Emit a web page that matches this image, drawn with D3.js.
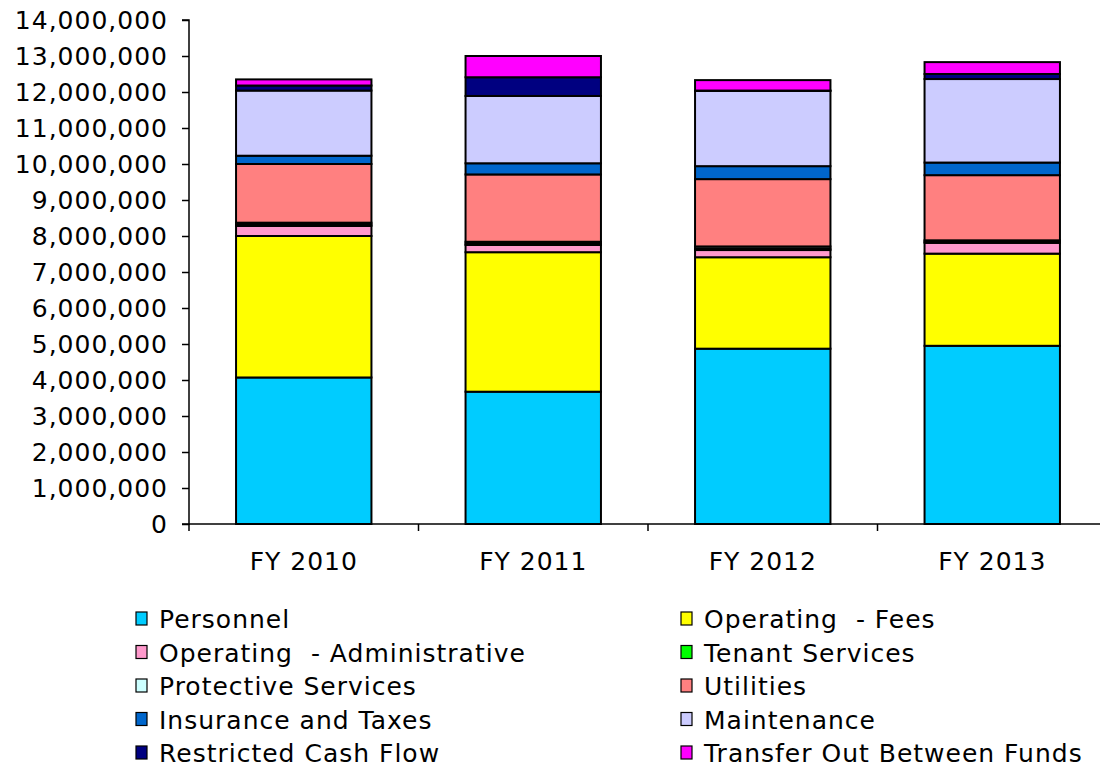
<!DOCTYPE html>
<html>
<head>
<meta charset="utf-8">
<script src="https://cdn.jsdelivr.net/npm/d3@7"></script>
<style>
  html, body { margin: 0; padding: 0; background: #fff; }
  svg { display: block; font-family: "DejaVu Sans", Verdana, sans-serif; }
</style>
</head>
<body>
<svg id="chart" width="1100" height="769"></svg>
<script>
// ---- data ----
const categories = ["FY 2010", "FY 2011", "FY 2012", "FY 2013"];
const seriesNames = [
  "Personnel", "Operating  - Fees", "Operating  - Administrative", "Tenant Services",
  "Protective Services", "Utilities", "Insurance and Taxes", "Maintenance",
  "Restricted Cash Flow", "Transfer Out Between Funds"
];
const personnel      = [4070000, 3675000, 4870000, 4950000];
const operatingFees  = [3930000, 3875000, 2540000, 2560000];
const operatingAdmin = [280000, 200000, 200000, 300000];
const tenantServices = [40000, 40000, 40000, 30000];
const protective     = [50000, 50000, 60000, 40000];
const utilities      = [1630000, 1870000, 1870000, 1810000];
const insurance      = [230000, 310000, 360000, 350000];
const maintenance    = [1810000, 1870000, 2090000, 2320000];
const restricted     = [140000, 520000, 10000, 140000];
const transferOut    = [170000, 590000, 290000, 330000];
const seriesValues = [personnel, operatingFees, operatingAdmin, tenantServices, protective,
                      utilities, insurance, maintenance, restricted, transferOut];
const seriesColors = ["#00CCFF", "#FFFF00", "#FF99CC", "#00FF00", "#CCFFFF",
                      "#FF8080", "#0066CC", "#CCCCFF", "#000080", "#FF00FF"];
const yTicks = d3.range(0, 14000001, 1000000);

// ---- build table ----
const table = categories.map((c, i) => {
  const row = { cat: c };
  seriesNames.forEach((s, j) => row[s] = seriesValues[j][i]);
  return row;
});

const svg = d3.select("#chart");
const pLeft = 189, pRight = 1107, pTop = 20, pBottom = 524;
const FONT = 25, LS = "1px";

const x = d3.scaleBand().domain(categories).range([pLeft, pRight]).paddingInner(0.41).paddingOuter(0.205);
const y = d3.scaleLinear().domain([0, 14000000]).range([pBottom, pTop]);

const stack = d3.stack().keys(seriesNames);
const layers = stack(table);

const g = svg.append("g");
layers.forEach((layer, j) => {
  g.selectAll(null).data(layer).enter().append("rect")
    .attr("x", d => x(d.data.cat))
    .attr("width", x.bandwidth())
    .attr("y", d => y(d[1]))
    .attr("height", d => Math.max(0, y(d[0]) - y(d[1])))
    .attr("fill", seriesColors[j])
    .attr("stroke", "#000")
    .attr("stroke-width", 2);
});

// y axis
const yAxis = d3.axisLeft(y).tickValues(yTicks).tickSize(7).tickPadding(14)
  .tickFormat(d3.format(","));
const ya = svg.append("g").attr("transform", `translate(${pLeft},0)`).call(yAxis);
ya.select(".domain").attr("stroke", "#000").attr("stroke-width", 1.5).attr("d", `M-7,${pTop}H0V${pBottom}H-7`);
ya.selectAll(".tick line").attr("stroke", "#000").attr("stroke-width", 1.5);
ya.selectAll(".tick text").attr("font-size", FONT).attr("fill", "#000")
  .attr("letter-spacing", LS)
  .attr("font-family", "DejaVu Sans, Verdana, sans-serif");

// x axis
const xAxis = d3.axisBottom(x).tickSize(0).tickPadding(28);
const xa = svg.append("g").attr("transform", `translate(0,${pBottom})`).call(xAxis);
xa.select(".domain").attr("stroke", "#000").attr("stroke-width", 1.5).attr("d", `M${pLeft},0H${pRight}`);
xa.selectAll(".tick text").attr("font-size", FONT).attr("fill", "#000")
  .attr("letter-spacing", LS)
  .attr("font-family", "DejaVu Sans, Verdana, sans-serif");
// category boundary ticks
const step = x.step();
const bounds = d3.range(categories.length + 1).map(i => x(categories[0]) - x.paddingOuter() * step + i * step);
xa.selectAll(".bt").data(bounds).enter().append("line").attr("class", "bt")
  .attr("x1", d => d).attr("x2", d => d).attr("y1", 0).attr("y2", 7)
  .attr("stroke", "#000").attr("stroke-width", 1.5);

// legend
const legend = svg.append("g");
seriesNames.forEach((s, j) => {
  const col = j % 2, row = Math.floor(j / 2);
  const lx = col === 0 ? 136 : 681;
  const ly = 619 + row * 33.5;
  legend.append("rect").attr("x", lx).attr("y", ly - 7).attr("width", 11).attr("height", 13)
    .attr("fill", seriesColors[j]).attr("stroke", "#000").attr("stroke-width", 1.2);
  legend.append("text").attr("x", lx + 23).attr("y", ly).attr("dy", "0.36em")
    .attr("font-size", FONT).attr("letter-spacing", LS)
    .attr("fill", "#000").style("white-space", "pre").text(s);
});
</script>
</body>
</html>
